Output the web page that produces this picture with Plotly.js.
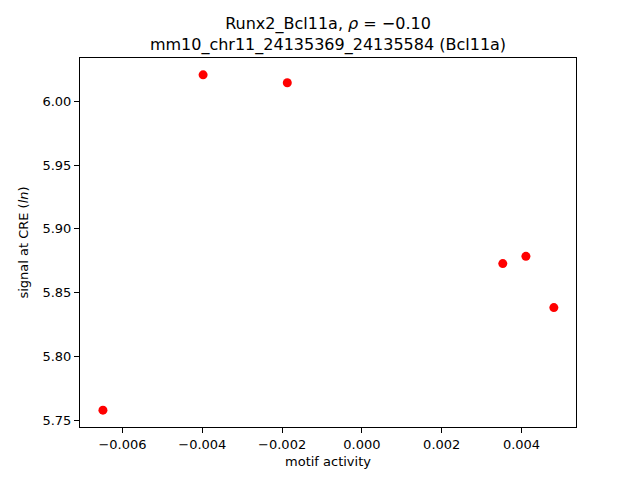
<!DOCTYPE html>
<html>
<head>
<meta charset="utf-8">
<script src="https://cdn.plot.ly/plotly-3.0.1.min.js"></script>
<style>html,body{margin:0;padding:0;background:#fff;}#plot{width:640px;height:480px;}</style>
</head>
<body>
<div id="plot"></div>
<script>
const motifActivity = [-0.00649, -0.00398, -0.00187, 0.00353, 0.00411, 0.00481];
const signalAtCRE = [5.7578, 6.0209, 6.0147, 5.8728, 5.8785, 5.8383];
const xTickVals = [-0.006, -0.004, -0.002, 0.0, 0.002, 0.004];
const xTickText = ["\u22120.006", "\u22120.004", "\u22120.002", "0.000", "0.002", "0.004"];
const yTickVals = [5.75, 5.80, 5.85, 5.90, 5.95, 6.00];
const yTickText = ["5.75", "5.80", "5.85", "5.90", "5.95", "6.00"];

const trace = {
  x: motifActivity, y: signalAtCRE, mode: 'markers', type: 'scatter',
  marker: {color: '#ff0000', size: 9}, hoverinfo: 'skip'
};
const font = {family: 'DejaVu Sans', color: '#000'};
const layout = {
  width: 640, height: 480,
  margin: {l: 80, r: 64, t: 58, b: 53, pad: 0},
  paper_bgcolor: '#fff', plot_bgcolor: '#fff',
  showlegend: false,
  font: font,
  title: {
    text: 'Runx2_Bcl11a, <i>ρ</i> = \u22120.10<br>mm10_chr11_24135369_24135584 (Bcl11a)',
    font: {family: 'DejaVu Sans', size: 16, color: '#000'},
    x: 0.5, xref: 'paper', xanchor: 'center',
    yref: 'container', y: (480 - 29) / 480, yanchor: 'bottom'
  },
  xaxis: {
    range: [-0.007065, 0.005365], autorange: false,
    tickvals: xTickVals, ticktext: xTickText,
    ticks: 'outside', ticklen: 5, tickwidth: 1, tickcolor: '#000',
    showline: true, linecolor: '#000', linewidth: 1, mirror: true,
    showgrid: false, zeroline: false,
    tickfont: {family: 'DejaVu Sans', size: 13, color: '#000'},
    title: {text: 'motif activity', font: {family: 'DejaVu Sans', size: 13, color: '#000'}, standoff: 6}
  },
  yaxis: {
    range: [5.7446, 6.0341], autorange: false,
    tickvals: yTickVals, ticktext: yTickText,
    ticks: 'outside', ticklen: 5, tickwidth: 1, tickcolor: '#000',
    showline: true, linecolor: '#000', linewidth: 1, mirror: true,
    showgrid: false, zeroline: false,
    tickfont: {family: 'DejaVu Sans', size: 13, color: '#000'},
    title: {text: 'signal at CRE (<i>ln</i>)', font: {family: 'DejaVu Sans', size: 13, color: '#000'}, standoff: 10}
  }
};
Plotly.newPlot('plot', [trace], layout, {displayModeBar: false, staticPlot: true});
</script>
</body>
</html>
